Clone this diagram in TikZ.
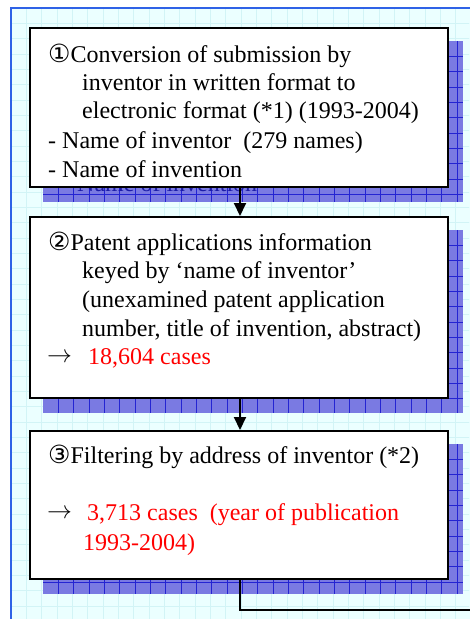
\documentclass[tikz,border=0pt]{standalone}
\usepackage{fontspec}
\setmainfont{Liberation Serif}
\newfontfamily\dvsans{DejaVu Sans}
\usetikzlibrary{arrows.meta}
\definecolor{bgc}{HTML}{EBFFFF}
\definecolor{bggrid}{HTML}{D2F4F6}
\definecolor{framec}{HTML}{2F62E6}
\definecolor{shfill}{HTML}{7A7AE2}
\definecolor{shgrid}{HTML}{2424D2}
\definecolor{hidtext}{HTML}{1C1CA8}
\definecolor{redtxt}{HTML}{FF0000}
\newcommand\myshadow[4]{%
  \fill[shfill] (#1,#2) rectangle (#3,#4);
  \begin{scope}
    \clip (#1,#2) rectangle (#3,#4);
    \foreach \i in {1,...,28} \draw[shgrid, line width=0.8pt] ({#1+15.33*\i},#2) -- ({#1+15.33*\i},#4);
    \foreach \i in {1,...,12} \draw[shgrid, line width=0.8pt] (#1,{#2+15.33*\i}) -- (#3,{#2+15.33*\i});
  \end{scope}}
\begin{document}
\begin{tikzpicture}[x=1pt,y=-1pt,
  box/.style={draw=black, line width=2pt, fill=white, minimum width=418pt, inner sep=0pt},
  txt/.style={anchor=base west, inner sep=0pt, font=\fontsize{24}{28}\selectfont},
  redt/.style={txt, text=redtxt},
  conn/.style={line width=2pt, draw=black},
  arr/.style={conn, -{Triangle[length=13pt,width=12pt]}}
]
\useasboundingbox (0,0) rectangle (469,619);
% background
\fill[white] (0,0) rectangle (469,619);
\fill[bgc] (11,8) rectangle (470,620);
\begin{scope}
  \clip (12,9) rectangle (469,619);
  \foreach \i in {1,...,30} \draw[bggrid, line width=0.7pt] ({11+15.33*\i},8) -- ++(0,612);
  \foreach \i in {1,...,40} \draw[bggrid, line width=0.7pt] (11,{8+15.33*\i}) -- ++(460,0);
\end{scope}
\draw[framec, line width=2pt] (11,621) -- (11,8) -- (471,8);
% shadows
\myshadow{43}{41}{463}{202}
\myshadow{43}{230}{463}{413}
\myshadow{43}{444}{463}{594}
\node[txt, text=hidtext] (hid) at (77,191.5) {Name of invention};
% boxes
\node[box, minimum height=159pt] (b1) at (239,107.5) {};
\node[box, minimum height=181pt] (b2) at (239,307.5) {};
\node[box, minimum height=148pt] (b3) at (239,505) {};
% connectors
\draw[arr] ([xshift=1pt]b1.south) -- ([xshift=1pt]b2.north);
\draw[arr] ([xshift=1pt]b2.south) -- ([xshift=1pt]b3.north);
\coordinate (exit) at (475,610);
\draw[conn] ([xshift=1pt]b3.south) |- (exit);
% box 1 text
\node[txt] (t1a) at (48,62) {{\dvsans\fontsize{25}{28}\selectfont ①}Conversion of submission by};
\node[txt] (t1b) at (82,90) {inventor in written format to};
\node[txt] (t1c) at (82,118) {electronic format (*1) (1993-2004)};
\node[txt] (t1d) at (48,148) {- Name of inventor\ \ (279 names)};
\node[txt] (t1e) at (48,177) {- Name of invention};
% box 2 text
\node[txt] (t2a) at (48,250) {{\dvsans\fontsize{25}{28}\selectfont ②}Patent applications information};
\node[txt] (t2b) at (82,278) {keyed by ‘name of inventor’};
\node[txt] (t2c) at (82,307) {(unexamined patent application};
\node[txt] (t2d) at (82,336) {number, title of invention, abstract)};
\node[txt] (t2e) at (47,362) {\(\rightarrow\)};
\node[redt] (t2f) at (88,364) {18,604 cases};
% box 3 text
\node[txt] (t3a) at (48,463) {{\dvsans\fontsize{25}{28}\selectfont ③}Filtering by address of inventor (*2)};
\node[txt] (t3b) at (47,518) {\(\rightarrow\)};
\node[redt] (t3c) at (87,520) {3,713 cases\ \ (year of publication};
\node[redt] (t3d) at (83,550) {1993-2004)};
\end{tikzpicture}
\end{document}
